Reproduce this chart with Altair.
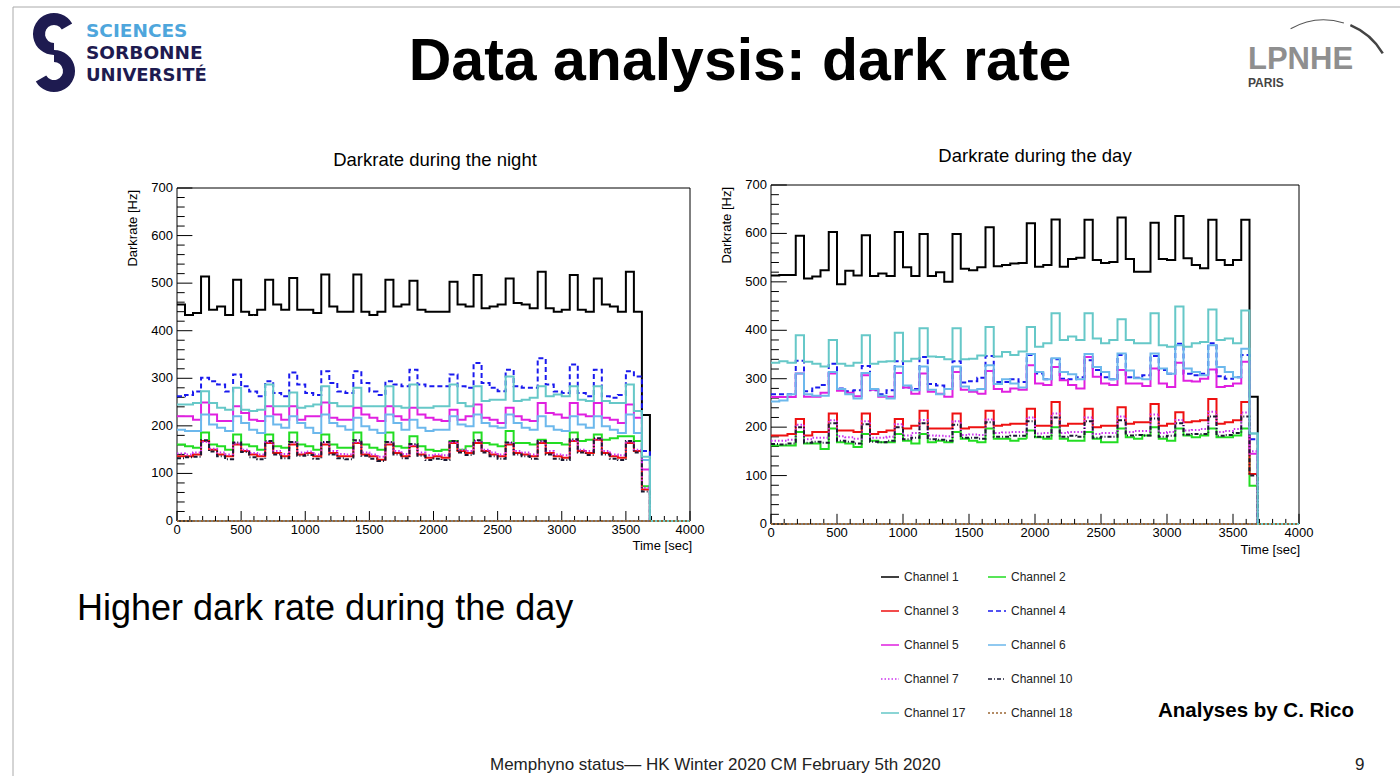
import altair as alt
import numpy as np
import pandas as pd

SANS = "Liberation Sans"
LOGO = "DejaVu Sans"

# ---------------------------------------------------------------- channels
CHANNELS = ["Channel 1", "Channel 2", "Channel 3", "Channel 4", "Channel 5",
            "Channel 6", "Channel 7", "Channel 10", "Channel 17", "Channel 18"]
COLORS = ["#000000", "#22dd22", "#ee1111", "#1a1aee", "#e020e0",
          "#6cb8ec", "#cc33ee", "#1a1a33", "#66c8c8", "#9a6633"]
DASHES = [[1, 0], [1, 0], [1, 0], [5, 3], [1, 0],
          [1, 0], [1.5, 2], [4, 2, 1, 2], [1, 0], [2, 2]]
# legend is filled column by column: odd-listed channels left, the rest right
LEGEND_ORDER = ["Channel 1", "Channel 3", "Channel 5", "Channel 7", "Channel 17",
                "Channel 2", "Channel 4", "Channel 6", "Channel 10", "Channel 18"]

# histogram binning: 64 bins of 62.5 s between 0 and 4000 s
T_MIN, T_MAX, N_BINS = 0, 4000, 64
RATE_MIN, RATE_MAX = 0, 700

# ---------------------------------------------------------------- night run, dark rate per bin [Hz]
NIGHT_CH1 = [455, 433, 437, 514, 444, 451, 433, 507, 440, 433,
             444, 507, 455, 444, 511, 444, 444, 437, 518, 451,
             440, 440, 518, 440, 433, 440, 507, 451, 455, 505,
             444, 440, 440, 440, 503, 455, 451, 517, 447, 451,
             455, 510, 458, 455, 447, 524, 447, 440, 444, 517,
             444, 440, 510, 455, 451, 440, 524, 440, 223, 0,
             0, 0, 0, 0]
NIGHT_CH2 = [161, 157, 154, 186, 161, 157, 150, 182, 161, 157,
             150, 182, 157, 154, 186, 161, 157, 150, 182, 161,
             154, 154, 186, 161, 154, 150, 186, 157, 154, 178,
             157, 150, 147, 150, 168, 150, 157, 186, 164, 161,
             157, 189, 164, 164, 161, 171, 164, 164, 161, 186,
             168, 171, 182, 171, 174, 178, 178, 168, 73, 0,
             0, 0, 0, 0]
NIGHT_CH3 = [136, 136, 140, 168, 150, 140, 136, 161, 147, 140,
             136, 164, 143, 136, 161, 140, 143, 136, 161, 143,
             136, 136, 164, 140, 136, 129, 161, 143, 136, 157,
             140, 133, 136, 133, 164, 147, 143, 164, 147, 140,
             136, 161, 143, 140, 136, 164, 143, 136, 133, 168,
             147, 143, 171, 143, 136, 133, 164, 147, 66, 0,
             0, 0, 0, 0]
NIGHT_CH4 = [262, 265, 272, 301, 294, 287, 272, 308, 283, 272,
             262, 294, 269, 262, 312, 287, 269, 265, 315, 290,
             272, 269, 315, 290, 272, 265, 294, 287, 283, 318,
             287, 283, 283, 283, 308, 283, 280, 332, 290, 280,
             273, 318, 283, 280, 280, 342, 287, 272, 269, 329,
             269, 262, 318, 262, 259, 265, 315, 304, 147, 0,
             0, 0, 0, 0]
NIGHT_CH5 = [220, 220, 213, 249, 224, 210, 210, 241, 227, 213,
             210, 241, 224, 213, 241, 213, 220, 220, 249, 217,
             213, 213, 238, 224, 217, 210, 241, 220, 213, 238,
             224, 217, 213, 210, 234, 213, 220, 245, 217, 213,
             206, 238, 220, 213, 210, 248, 227, 224, 217, 248,
             224, 220, 248, 217, 213, 206, 245, 217, 108, 0,
             0, 0, 0, 0]
NIGHT_CH6 = [192, 189, 189, 224, 203, 196, 189, 220, 206, 192,
             185, 220, 203, 196, 220, 206, 196, 185, 224, 206,
             199, 192, 217, 199, 192, 185, 224, 206, 192, 213,
             196, 189, 192, 192, 220, 203, 199, 224, 206, 199,
             196, 224, 206, 196, 192, 220, 199, 192, 189, 220,
             203, 196, 220, 199, 192, 185, 224, 185, 128, 0,
             0, 0, 0, 0]
NIGHT_CH7 = [142, 140, 144, 166, 152, 144, 140, 163, 150, 143,
             140, 166, 147, 141, 165, 144, 146, 140, 165, 147,
             141, 140, 166, 144, 140, 135, 165, 147, 141, 160,
             144, 138, 140, 138, 166, 150, 147, 168, 150, 144,
             140, 164, 147, 144, 140, 167, 147, 140, 138, 170,
             150, 147, 172, 147, 140, 138, 167, 150, 70, 0,
             0, 0, 0, 0]
NIGHT_CH10 = [132, 134, 135, 170, 146, 136, 130, 165, 145, 134,
              130, 168, 140, 132, 166, 137, 139, 131, 166, 140,
              132, 130, 170, 137, 131, 126, 166, 140, 132, 162,
              137, 128, 131, 128, 168, 144, 139, 170, 144, 136,
              131, 165, 140, 136, 131, 168, 140, 131, 128, 172,
              144, 139, 174, 140, 131, 128, 168, 144, 62, 0,
              0, 0, 0, 0]
NIGHT_CH17 = [245, 245, 248, 273, 248, 238, 234, 280, 234, 231,
              234, 287, 241, 241, 270, 238, 241, 245, 283, 248,
              241, 241, 280, 241, 241, 241, 283, 241, 238, 287,
              238, 238, 241, 241, 287, 248, 241, 283, 252, 255,
              255, 304, 252, 255, 259, 283, 262, 266, 262, 283,
              255, 252, 283, 252, 248, 248, 287, 231, 135, 0,
              0, 0, 0, 0]
NIGHT_CH18 = [0] * 64

# ---------------------------------------------------------------- day run, dark rate per bin [Hz]
DAY_CH1 = [513, 514, 514, 595, 507, 511, 524, 603, 495, 523,
           513, 596, 512, 517, 512, 603, 530, 512, 599, 512,
           520, 500, 599, 527, 524, 530, 613, 532, 535, 538,
           539, 621, 531, 535, 629, 531, 547, 550, 628, 545,
           539, 541, 633, 547, 521, 521, 622, 547, 545, 636,
           549, 535, 528, 628, 545, 535, 545, 628, 263, 0,
           0, 0, 0, 0]
DAY_CH2 = [162, 162, 162, 190, 166, 166, 155, 197, 169, 166,
           159, 186, 172, 169, 169, 186, 172, 166, 186, 169,
           172, 169, 190, 176, 172, 169, 197, 176, 176, 172,
           176, 193, 179, 176, 200, 176, 172, 172, 190, 176,
           169, 169, 197, 179, 176, 183, 200, 176, 172, 197,
           183, 179, 183, 197, 179, 179, 183, 197, 79, 0,
           0, 0, 0, 0]
DAY_CH3 = [183, 183, 186, 217, 183, 190, 190, 228, 193, 193,
           190, 228, 186, 190, 193, 217, 197, 203, 234, 197,
           197, 197, 228, 197, 200, 200, 234, 203, 205, 207,
           207, 238, 203, 203, 252, 203, 207, 207, 238, 200,
           203, 203, 241, 207, 210, 210, 248, 203, 207, 231,
           210, 212, 214, 258, 207, 210, 214, 252, 103, 0,
           0, 0, 0, 0]
DAY_CH4 = [268, 268, 268, 337, 274, 282, 287, 331, 280, 274,
           276, 326, 276, 268, 276, 336, 282, 279, 345, 289,
           286, 279, 336, 292, 295, 302, 347, 293, 293, 299,
           293, 349, 311, 299, 340, 300, 299, 303, 338, 318,
           303, 299, 349, 303, 302, 307, 347, 318, 310, 372,
           310, 307, 310, 373, 305, 300, 303, 349, 175, 0,
           0, 0, 0, 0]
DAY_CH5 = [262, 262, 262, 311, 263, 263, 271, 311, 275, 271,
           264, 307, 277, 263, 263, 312, 282, 269, 311, 273,
           269, 263, 314, 277, 273, 269, 316, 279, 273, 280,
           277, 328, 290, 287, 324, 297, 287, 280, 345, 304,
           290, 287, 318, 290, 290, 285, 321, 290, 283, 333,
           296, 294, 300, 319, 283, 285, 290, 335, 145, 0,
           0, 0, 0, 0]
DAY_CH6 = [253, 255, 268, 311, 268, 265, 265, 314, 279, 268,
           259, 312, 279, 265, 259, 325, 286, 276, 325, 277,
           268, 279, 325, 284, 276, 279, 328, 289, 299, 290,
           282, 351, 314, 299, 342, 314, 309, 299, 351, 324,
           314, 299, 352, 317, 301, 299, 352, 321, 310, 369,
           321, 314, 307, 369, 324, 314, 303, 362, 187, 0,
           0, 0, 0, 0]
DAY_CH7 = [172, 172, 174, 205, 175, 178, 178, 214, 181, 179,
           176, 212, 178, 178, 180, 206, 183, 188, 215, 183,
           182, 181, 212, 184, 185, 184, 216, 188, 189, 190,
           190, 220, 187, 188, 228, 188, 190, 190, 220, 186,
           188, 188, 222, 190, 192, 192, 226, 188, 190, 215,
           193, 194, 196, 232, 190, 192, 196, 230, 150, 0,
           0, 0, 0, 0]
DAY_CH10 = [165, 164, 166, 200, 168, 170, 168, 208, 172, 170,
            166, 206, 170, 169, 172, 200, 175, 178, 208, 175,
            174, 172, 205, 178, 178, 176, 210, 180, 180, 182,
            182, 212, 180, 180, 220, 180, 182, 180, 212, 178,
            180, 180, 214, 183, 184, 183, 218, 180, 182, 208,
            185, 186, 186, 222, 182, 184, 188, 222, 100, 0,
            0, 0, 0, 0]
DAY_CH17 = [333, 336, 333, 390, 335, 331, 325, 380, 331, 327,
            333, 390, 331, 335, 336, 395, 336, 341, 404, 346,
            345, 340, 404, 340, 341, 348, 407, 346, 355, 349,
            356, 407, 366, 373, 435, 380, 387, 380, 435, 383,
            373, 380, 423, 380, 373, 373, 435, 369, 366, 449,
            366, 373, 376, 443, 380, 383, 373, 441, 187, 0,
            0, 0, 0, 0]
DAY_CH18 = [0] * 64

NIGHT = [NIGHT_CH1, NIGHT_CH2, NIGHT_CH3, NIGHT_CH4, NIGHT_CH5,
         NIGHT_CH6, NIGHT_CH7, NIGHT_CH10, NIGHT_CH17, NIGHT_CH18]
DAY = [DAY_CH1, DAY_CH2, DAY_CH3, DAY_CH4, DAY_CH5,
       DAY_CH6, DAY_CH7, DAY_CH10, DAY_CH17, DAY_CH18]

# axis divisions (ROOT style: primary + secondary ticks)
X_MAJOR = list(range(0, 4001, 500))
X_MINOR = [v for v in range(0, 4001, 100) if v % 500]
Y_MAJOR = list(range(0, 701, 100))
Y_MINOR = [v for v in range(0, 701, 20) if v % 100]
TICK_FRAC = 0.03


def hist_table(series_list):
    edges = np.linspace(T_MIN, T_MAX, N_BINS + 1)
    rows = []
    for name, vals in zip(CHANNELS, series_list):
        closed = list(vals) + [vals[-1]]
        for t, v in zip(edges, closed):
            rows.append((name, float(t), float(v)))
    return pd.DataFrame(rows, columns=["channel", "t", "rate"])


COLOR_OF = dict(zip(CHANNELS, COLORS))
DASH_OF = dict(zip(CHANNELS, DASHES))

LEGEND = alt.Legend(orient="none", legendX=880, legendY=567, columns=2,
                    columnPadding=19, rowPadding=18, symbolSize=324,
                    symbolStrokeWidth=1.5, labelFont=SANS, labelFontSize=12,
                    labelColor="#222", labelOffset=4, padding=0, title=None)
COLOR_SCALE = alt.Scale(domain=LEGEND_ORDER, range=[COLOR_OF[c] for c in LEGEND_ORDER])
DASH_SCALE = alt.Scale(domain=LEGEND_ORDER, range=[DASH_OF[c] for c in LEGEND_ORDER])


def panel(series_list, x_px, y_px, label_size):
    xs = alt.Scale(domain=[T_MIN, T_MAX], range=x_px, nice=False, zero=False)
    ys = alt.Scale(domain=[RATE_MIN, RATE_MAX], range=y_px, nice=False, zero=False)

    df = hist_table(series_list)
    lines = alt.Chart(df).mark_line(interpolate="step-after", strokeWidth=2).encode(
        x=alt.X("t:Q", scale=xs, axis=None),
        y=alt.Y("rate:Q", scale=ys, axis=None),
        color=alt.Color("channel:N", scale=COLOR_SCALE, legend=LEGEND),
        strokeDash=alt.StrokeDash("channel:N", scale=DASH_SCALE, legend=LEGEND),
    )

    frame_df = pd.DataFrame({"x0": [T_MIN], "x1": [T_MAX], "y0": [RATE_MIN], "y1": [RATE_MAX]})
    frame = alt.Chart(frame_df).mark_rect(fillOpacity=0, stroke="#000", strokeWidth=1).encode(
        x=alt.X("x0:Q", scale=xs, axis=None), x2="x1",
        y=alt.Y("y0:Q", scale=ys, axis=None), y2="y1",
    )

    # inward ticks, length a fixed fraction of the frame
    x_len = TICK_FRAC * (RATE_MAX - RATE_MIN)
    y_len = TICK_FRAC * (T_MAX - T_MIN)
    yt = pd.DataFrame({"v": Y_MAJOR + Y_MINOR, "a": 0.0,
                       "b": [y_len] * len(Y_MAJOR) + [y_len / 2] * len(Y_MINOR)})
    xt = pd.DataFrame({"v": X_MAJOR + X_MINOR, "a": 0.0,
                       "b": [x_len] * len(X_MAJOR) + [x_len / 2] * len(X_MINOR)})
    y_ticks = alt.Chart(yt).mark_rule(color="#000", strokeWidth=1).encode(
        x=alt.X("a:Q", scale=xs, axis=None), x2="b",
        y=alt.Y("v:Q", scale=ys, axis=None),
    )
    x_ticks = alt.Chart(xt).mark_rule(color="#000", strokeWidth=1).encode(
        x=alt.X("v:Q", scale=xs, axis=None),
        y=alt.Y("a:Q", scale=ys, axis=None), y2="b",
    )

    # tick labels
    xl = pd.DataFrame({"v": X_MAJOR, "a": 0.0})
    yl = pd.DataFrame({"v": Y_MAJOR, "a": 0.0})
    x_labels = alt.Chart(xl).mark_text(font=SANS, fontSize=label_size, color="#000",
                                       align="center", baseline="top", dy=3).encode(
        x=alt.X("v:Q", scale=xs, axis=None),
        y=alt.Y("a:Q", scale=ys, axis=None),
        text=alt.Text("v:Q", format="d"),
    )
    y_labels = alt.Chart(yl).mark_text(font=SANS, fontSize=label_size, color="#000",
                                       align="right", baseline="middle", dx=-4).encode(
        x=alt.X("a:Q", scale=xs, axis=None),
        y=alt.Y("v:Q", scale=ys, axis=None),
        text=alt.Text("v:Q", format="d"),
    )
    return alt.layer(frame, y_ticks, x_ticks, x_labels, y_labels, lines)


one = pd.DataFrame({"k": [0]})


def text(s, x, y, size, weight="normal", color="#000", align="left",
         baseline="alphabetic", angle=0, font=SANS):
    return alt.Chart(one).mark_text(
        text=s, fontSize=size, fontWeight=weight, color=color, align=align,
        baseline=baseline, angle=angle, font=font,
    ).encode(x=alt.value(x), y=alt.value(y))


def hline(x1, x2, y, color):
    return alt.Chart(one).mark_rule(color=color, strokeWidth=1).encode(
        x=alt.value(x1), x2=alt.value(x2), y=alt.value(y))


def vline(x, y1, y2, color):
    return alt.Chart(one).mark_rule(color=color, strokeWidth=1).encode(
        x=alt.value(x), y=alt.value(y1), y2=alt.value(y2))


def arc(r_out, r_in, th1, th2, cx, cy, color):
    return alt.Chart(one).mark_arc(radius=r_out, radius2=r_in, theta=th1, theta2=th2,
                                   color=color).encode(x=alt.value(cx), y=alt.value(cy))


NAVY = "#1e1b50"
decor = [
    hline(13, 1400, 7, "#aaaaaa"),
    vline(13, 7, 776, "#aaaaaa"),
    # university mark: an S built from two thick ring segments
    arc(21, 9, 3.14, 7.33, 54, 34, NAVY),
    arc(21, 9, 0.0, 4.19, 54, 71, NAVY),
    text("SCIENCES", 86, 37, 18.5, "bold", "#4ea6dc", font=LOGO),
    text("SORBONNE", 86, 59, 18.5, "bold", NAVY, font=LOGO),
    text("UNIVERSITÉ", 86, 81, 18, "bold", NAVY, font=LOGO),
    # lab mark
    arc(68.5, 67.5, 5.77, 6.58, 1324, 88, "#555555"),
    arc(69.5, 67.0, 6.68, 7.32, 1324, 88, "#444444"),
    text("LPNHE", 1248, 69, 31, "bold", "#8f8f8f"),
    text("PARIS", 1248, 87, 12, "bold", "#444444"),
    # slide text
    text("Data analysis: dark rate", 740, 80, 59, "bold", "#000", "center"),
    text("Darkrate during the night", 435, 166, 18.5, "normal", "#000", "center"),
    text("Darkrate during the day", 1035, 162, 18.5, "normal", "#000", "center"),
    text("Darkrate [Hz]", 133, 190, 13, "normal", "#000", "right", "middle", 270),
    text("Darkrate [Hz]", 727, 187, 13, "normal", "#000", "right", "middle", 270),
    text("Time [sec]", 692, 550, 13, "normal", "#000", "right"),
    text("Time [sec]", 1300, 554, 13, "normal", "#000", "right"),
    text("Higher dark rate during the day", 77, 620, 36, "normal", "#000"),
    text("Analyses by C. Rico", 1158, 717, 20.5, "bold", "#000"),
    text("Memphyno status\u2014 HK Winter 2020 CM February 5th 2020", 490, 770, 17, "normal", "#222"),
    text("9", 1355, 770, 17, "normal", "#222"),
]

night = panel(NIGHT, [177, 690], [521, 188], 13)
day = panel(DAY, [771, 1299], [524, 185], 13)

chart = alt.layer(night, day, *decor).resolve_scale(
    x="independent", y="independent"
).properties(
    width=1400, height=776, padding=0, autosize="none", background="white"
).configure_view(strokeWidth=0)

chart.save("out.html", embed_options={"renderer": "svg", "actions": False})
